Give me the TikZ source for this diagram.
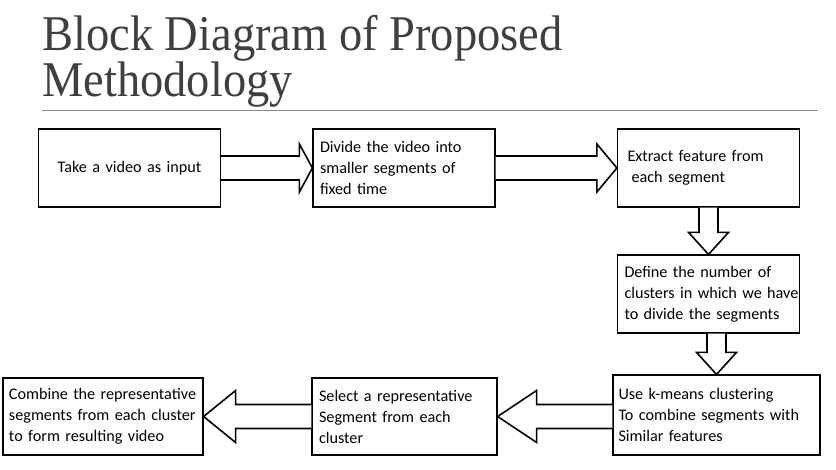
\documentclass[tikz,border=0pt]{standalone}
\usepackage{fontspec}
\setmainfont{Carlito}[WordSpace=0.5]
\newfontfamily\titlefont{Liberation Serif}
\usetikzlibrary{calc}
\definecolor{titlegray}{HTML}{3F3F3F}
\definecolor{rulegray}{HTML}{8C8C8C}
\newcommand{\bl}[1]{\mbox{#1}}
\tikzset{
  box/.style={draw=black, line width=1.2pt, fill=white, inner xsep=7pt, inner ysep=0pt,
    align=left, font=\fontsize{16.2}{21}\selectfont},
  blockarrow/.style={draw=black, line width=1.6pt, fill=white, line join=miter},
  titletext/.style={font=\titlefont\fontsize{50}{45}\selectfont, text=titlegray,
    inner sep=0pt, anchor=base west, xscale=0.93, transform shape},
}
% horizontal block arrow: #1 start point, #2 tip point, #3 shaft half width, #4 head half width, #5 signed head length
\newcommand{\blockarrowh}[5]{%
  \draw[blockarrow] let \p1=(#1), \p2=(#2) in
    (\x1,\y2+#3) -- (\x2-#5,\y2+#3) -- (\x2-#5,\y2+#4) -- (\x2,\y2)
    -- (\x2-#5,\y2-#4) -- (\x2-#5,\y2-#3) -- (\x1,\y2-#3);}
% vertical (downward) block arrow
\newcommand{\blockarrowv}[5]{%
  \draw[blockarrow] let \p1=(#1), \p2=(#2) in
    (\x2+#3,\y1) -- (\x2+#3,\y2+#5) -- (\x2+#4,\y2+#5) -- (\x2,\y2)
    -- (\x2-#4,\y2+#5) -- (\x2-#3,\y2+#5) -- (\x2-#3,\y1);}
\begin{document}
\begin{tikzpicture}[x=1pt,y=1pt]
\useasboundingbox (0,0) rectangle (836,-469);
% title
\node[titletext] (title1) at (42,-50) {Block Diagram of Proposed};
\node[titletext] (title2) at (42,-96) {Methodology};
\coordinate (ruleL) at (42,-110);
\coordinate (ruleR) at (818,-110);
\draw[rulegray, line width=1pt] (ruleL) -- (ruleR);
% boxes
\node[box, align=center, text width=168pt, minimum height=78pt] (b1) at (129.5,-168)
  {\bl{Take a video as input}};
\node[box, text width=168pt, minimum height=78pt] (b2) at (404,-168)
  {\bl{Divide the video into}\\\bl{smaller segments of}\\\bl{fixed time}};
\node[box, inner xsep=10pt, text width=162pt, minimum height=78pt] (b3) at (708.5,-168)
  {\bl{Extract feature from}\\\bl{\hspace{4pt}each segment}};
\node[box, text width=168pt, minimum height=78pt] (b4) at (708.5,-294)
  {\bl{Define the number of}\\\bl{clusters in which we have}\\\bl{to divide the segments}};
\node[box, inner xsep=5.5pt, text width=196pt, minimum height=80pt] (b5) at (716.5,-415)
  {\bl{Use k-means clustering}\\\bl{To combine segments with}\\\bl{Similar features}};
\node[box, text width=171pt, minimum height=77pt] (b6) at (404.5,-416.5)
  {\bl{Select a representative}\\\bl{Segment from each}\\\bl{cluster}};
\node[box, inner xsep=6pt, text width=188pt, minimum height=77pt] (b7) at (103,-416.5)
  {\bl{Combine the representative}\\\bl{segments from each cluster}\\\bl{to form resulting video}};
% arrows
\blockarrowh{b1.east}{b2.west}{12pt}{24pt}{13pt}
\blockarrowh{b2.east}{b3.west}{12pt}{24pt}{20pt}
\blockarrowv{b3.south}{b4.north}{9.5pt}{20pt}{22pt}
\blockarrowv{b4.south}{b5.north}{9.5pt}{20pt}{22pt}
\blockarrowh{b5.west}{b6.east}{12pt}{26pt}{-39pt}
\blockarrowh{b6.west}{b7.east}{12pt}{26pt}{-32pt}
\end{tikzpicture}
\end{document}
